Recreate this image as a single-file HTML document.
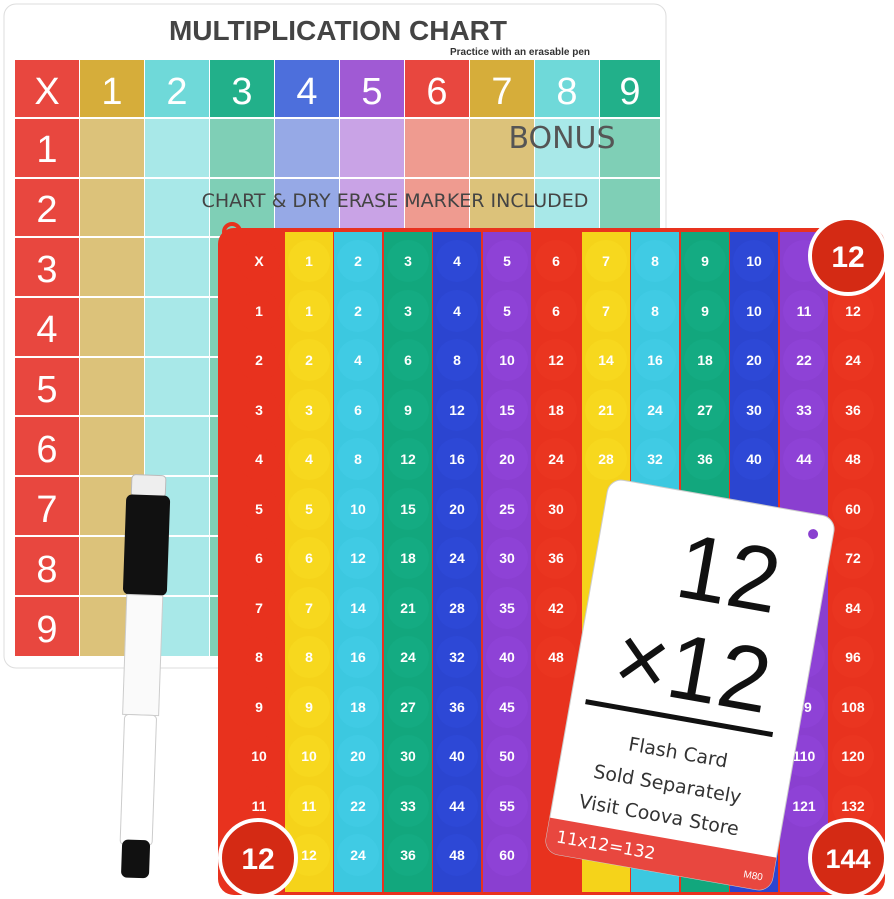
<!DOCTYPE html>
<html><head><meta charset="utf-8"><style>
body{margin:0;background:#fff;width:894px;height:899px;overflow:hidden}
svg{display:block}
.b text{font-family:"Liberation Sans",sans-serif;font-weight:bold;font-size:14px;fill:#fff;text-anchor:middle}
</style></head><body>
<svg width="894" height="899" viewBox="0 0 894 899" xmlns="http://www.w3.org/2000/svg">
<!-- whiteboard -->
<rect x="4" y="4" width="662" height="664" rx="12" fill="#fff" stroke="#ddd"/>
<text x="338" y="40" font-family="Liberation Sans" font-weight="bold" font-size="28" fill="#444" text-anchor="middle">MULTIPLICATION CHART</text>
<text x="520" y="55" font-family="Liberation Sans" font-weight="bold" font-size="10" fill="#333" text-anchor="middle">Practice with an erasable pen</text>
<g>
<rect x="15" y="60" width="64" height="596" fill="#e8473f"/>
<rect x="80" y="60" width="64" height="596" fill="#dcc27a"/><rect x="80" y="60" width="64" height="58" fill="#d6ad3a"/>
<rect x="145" y="60" width="64" height="596" fill="#a8e8e8"/><rect x="145" y="60" width="64" height="58" fill="#6fd9d9"/>
<rect x="210" y="60" width="64" height="596" fill="#7fcfb6"/><rect x="210" y="60" width="64" height="58" fill="#22b08a"/>
<rect x="275" y="60" width="64" height="596" fill="#96a9e6"/><rect x="275" y="60" width="64" height="58" fill="#4d6fdc"/>
<rect x="340" y="60" width="64" height="596" fill="#c9a3e6"/><rect x="340" y="60" width="64" height="58" fill="#a05ad4"/>
<rect x="405" y="60" width="64" height="596" fill="#ef9b90"/><rect x="405" y="60" width="64" height="58" fill="#e8473f"/>
<rect x="470" y="60" width="64" height="596" fill="#dcc27a"/><rect x="470" y="60" width="64" height="58" fill="#d6ad3a"/>
<rect x="535" y="60" width="64" height="596" fill="#a8e8e8"/><rect x="535" y="60" width="64" height="58" fill="#6fd9d9"/>
<rect x="600" y="60" width="60" height="596" fill="#7fcfb6"/><rect x="600" y="60" width="60" height="58" fill="#22b08a"/>
</g>
<g stroke="#fff" stroke-width="2">
<line x1="15" y1="118" x2="660" y2="118"/><line x1="15" y1="178" x2="660" y2="178"/><line x1="15" y1="237" x2="660" y2="237"/><line x1="15" y1="297" x2="660" y2="297"/><line x1="15" y1="357" x2="660" y2="357"/><line x1="15" y1="416" x2="660" y2="416"/><line x1="15" y1="476" x2="660" y2="476"/><line x1="15" y1="536" x2="660" y2="536"/><line x1="15" y1="596" x2="660" y2="596"/>
</g>
<g font-family="Liberation Sans" font-size="38" fill="#fff" text-anchor="middle">
<text x="47" y="104">X</text><text x="112" y="104">1</text><text x="177" y="104">2</text><text x="242" y="104">3</text><text x="307" y="104">4</text><text x="372" y="104">5</text><text x="437" y="104">6</text><text x="502" y="104">7</text><text x="567" y="104">8</text><text x="630" y="104">9</text>
<text x="47" y="162">1</text><text x="47" y="222">2</text><text x="47" y="282">3</text><text x="47" y="342">4</text><text x="47" y="402">5</text><text x="47" y="462">6</text><text x="47" y="522">7</text><text x="47" y="582">8</text><text x="47" y="642">9</text>
</g>
<text x="562" y="148" font-family="DejaVu Sans" font-size="30" fill="#555" text-anchor="middle">BONUS</text>
<text x="395" y="207" font-family="DejaVu Sans" font-size="19" fill="#444" text-anchor="middle">CHART &amp; DRY ERASE MARKER INCLUDED</text>

<!-- pop it board -->
<circle cx="232" cy="232" r="8" fill="none" stroke="#e8321e" stroke-width="4"/>
<rect x="218" y="228" width="667" height="667" rx="16" fill="#e8321e"/>
<g>
<rect x="285" y="232" width="48" height="660" fill="#f5d31a"/>
<rect x="334" y="232" width="48" height="660" fill="#3cc8e0"/>
<rect x="384" y="232" width="48" height="660" fill="#12a77d"/>
<rect x="433" y="232" width="48" height="660" fill="#2b45d0"/>
<rect x="483" y="232" width="48" height="660" fill="#8a3fd0"/>
<rect x="582" y="232" width="48" height="660" fill="#f5d31a"/>
<rect x="631" y="232" width="48" height="660" fill="#3cc8e0"/>
<rect x="681" y="232" width="48" height="660" fill="#12a77d"/>
<rect x="730" y="232" width="48" height="660" fill="#2b45d0"/>
<rect x="780" y="232" width="48" height="660" fill="#8a3fd0"/>
</g>
<defs>
<radialGradient id="sh" cx="0.4" cy="0.35" r="0.7"><stop offset="0" stop-color="#fff" stop-opacity="0.35"/><stop offset="1" stop-color="#000" stop-opacity="0.15"/></radialGradient>
</defs>
<g class="b">
<!-- col 0 red -->
<g fill="#e8321e"><circle cx="259" cy="261" r="21"/><circle cx="259" cy="311" r="21"/><circle cx="259" cy="360" r="21"/><circle cx="259" cy="410" r="21"/><circle cx="259" cy="459" r="21"/><circle cx="259" cy="509" r="21"/><circle cx="259" cy="558" r="21"/><circle cx="259" cy="608" r="21"/><circle cx="259" cy="657" r="21"/><circle cx="259" cy="707" r="21"/><circle cx="259" cy="756" r="21"/><circle cx="259" cy="806" r="21"/></g>
<text x="259" y="266">X</text><text x="259" y="316">1</text><text x="259" y="365">2</text><text x="259" y="415">3</text><text x="259" y="464">4</text><text x="259" y="514">5</text><text x="259" y="563">6</text><text x="259" y="613">7</text><text x="259" y="662">8</text><text x="259" y="712">9</text><text x="259" y="761">10</text><text x="259" y="811">11</text>
<!-- col1 yellow -->
<g fill="#f7d81e"><circle cx="309" cy="261" r="21"/><circle cx="309" cy="311" r="21"/><circle cx="309" cy="360" r="21"/><circle cx="309" cy="410" r="21"/><circle cx="309" cy="459" r="21"/><circle cx="309" cy="509" r="21"/><circle cx="309" cy="558" r="21"/><circle cx="309" cy="608" r="21"/><circle cx="309" cy="657" r="21"/><circle cx="309" cy="707" r="21"/><circle cx="309" cy="756" r="21"/><circle cx="309" cy="806" r="21"/><circle cx="309" cy="855" r="21"/></g>
<text x="309" y="266">1</text><text x="309" y="316">1</text><text x="309" y="365">2</text><text x="309" y="415">3</text><text x="309" y="464">4</text><text x="309" y="514">5</text><text x="309" y="563">6</text><text x="309" y="613">7</text><text x="309" y="662">8</text><text x="309" y="712">9</text><text x="309" y="761">10</text><text x="309" y="811">11</text><text x="309" y="860">12</text>
<!-- col2 cyan -->
<g fill="#40cbe4"><circle cx="358" cy="261" r="21"/><circle cx="358" cy="311" r="21"/><circle cx="358" cy="360" r="21"/><circle cx="358" cy="410" r="21"/><circle cx="358" cy="459" r="21"/><circle cx="358" cy="509" r="21"/><circle cx="358" cy="558" r="21"/><circle cx="358" cy="608" r="21"/><circle cx="358" cy="657" r="21"/><circle cx="358" cy="707" r="21"/><circle cx="358" cy="756" r="21"/><circle cx="358" cy="806" r="21"/><circle cx="358" cy="855" r="21"/></g>
<text x="358" y="266">2</text><text x="358" y="316">2</text><text x="358" y="365">4</text><text x="358" y="415">6</text><text x="358" y="464">8</text><text x="358" y="514">10</text><text x="358" y="563">12</text><text x="358" y="613">14</text><text x="358" y="662">16</text><text x="358" y="712">18</text><text x="358" y="761">20</text><text x="358" y="811">22</text><text x="358" y="860">24</text>
<!-- col3 green -->
<g fill="#14ab82"><circle cx="408" cy="261" r="21"/><circle cx="408" cy="311" r="21"/><circle cx="408" cy="360" r="21"/><circle cx="408" cy="410" r="21"/><circle cx="408" cy="459" r="21"/><circle cx="408" cy="509" r="21"/><circle cx="408" cy="558" r="21"/><circle cx="408" cy="608" r="21"/><circle cx="408" cy="657" r="21"/><circle cx="408" cy="707" r="21"/><circle cx="408" cy="756" r="21"/><circle cx="408" cy="806" r="21"/><circle cx="408" cy="855" r="21"/></g>
<text x="408" y="266">3</text><text x="408" y="316">3</text><text x="408" y="365">6</text><text x="408" y="415">9</text><text x="408" y="464">12</text><text x="408" y="514">15</text><text x="408" y="563">18</text><text x="408" y="613">21</text><text x="408" y="662">24</text><text x="408" y="712">27</text><text x="408" y="761">30</text><text x="408" y="811">33</text><text x="408" y="860">36</text>
<!-- col4 blue -->
<g fill="#2d48d6"><circle cx="457" cy="261" r="21"/><circle cx="457" cy="311" r="21"/><circle cx="457" cy="360" r="21"/><circle cx="457" cy="410" r="21"/><circle cx="457" cy="459" r="21"/><circle cx="457" cy="509" r="21"/><circle cx="457" cy="558" r="21"/><circle cx="457" cy="608" r="21"/><circle cx="457" cy="657" r="21"/><circle cx="457" cy="707" r="21"/><circle cx="457" cy="756" r="21"/><circle cx="457" cy="806" r="21"/><circle cx="457" cy="855" r="21"/></g>
<text x="457" y="266">4</text><text x="457" y="316">4</text><text x="457" y="365">8</text><text x="457" y="415">12</text><text x="457" y="464">16</text><text x="457" y="514">20</text><text x="457" y="563">24</text><text x="457" y="613">28</text><text x="457" y="662">32</text><text x="457" y="712">36</text><text x="457" y="761">40</text><text x="457" y="811">44</text><text x="457" y="860">48</text>
<!-- col5 purple -->
<g fill="#8e42d6"><circle cx="507" cy="261" r="21"/><circle cx="507" cy="311" r="21"/><circle cx="507" cy="360" r="21"/><circle cx="507" cy="410" r="21"/><circle cx="507" cy="459" r="21"/><circle cx="507" cy="509" r="21"/><circle cx="507" cy="558" r="21"/><circle cx="507" cy="608" r="21"/><circle cx="507" cy="657" r="21"/><circle cx="507" cy="707" r="21"/><circle cx="507" cy="756" r="21"/><circle cx="507" cy="806" r="21"/><circle cx="507" cy="855" r="21"/></g>
<text x="507" y="266">5</text><text x="507" y="316">5</text><text x="507" y="365">10</text><text x="507" y="415">15</text><text x="507" y="464">20</text><text x="507" y="514">25</text><text x="507" y="563">30</text><text x="507" y="613">35</text><text x="507" y="662">40</text><text x="507" y="712">45</text><text x="507" y="761">50</text><text x="507" y="811">55</text><text x="507" y="860">60</text>
<!-- col6 red -->
<g fill="#ea3520"><circle cx="556" cy="261" r="21"/><circle cx="556" cy="311" r="21"/><circle cx="556" cy="360" r="21"/><circle cx="556" cy="410" r="21"/><circle cx="556" cy="459" r="21"/><circle cx="556" cy="509" r="21"/><circle cx="556" cy="558" r="21"/><circle cx="556" cy="608" r="21"/><circle cx="556" cy="657" r="21"/></g>
<text x="556" y="266">6</text><text x="556" y="316">6</text><text x="556" y="365">12</text><text x="556" y="415">18</text><text x="556" y="464">24</text><text x="556" y="514">30</text><text x="556" y="563">36</text><text x="556" y="613">42</text><text x="556" y="662">48</text>
<!-- col7 yellow -->
<g fill="#f7d81e"><circle cx="606" cy="261" r="21"/><circle cx="606" cy="311" r="21"/><circle cx="606" cy="360" r="21"/><circle cx="606" cy="410" r="21"/><circle cx="606" cy="459" r="21"/></g>
<text x="606" y="266">7</text><text x="606" y="316">7</text><text x="606" y="365">14</text><text x="606" y="415">21</text><text x="606" y="464">28</text>
<!-- col8 cyan -->
<g fill="#40cbe4"><circle cx="655" cy="261" r="21"/><circle cx="655" cy="311" r="21"/><circle cx="655" cy="360" r="21"/><circle cx="655" cy="410" r="21"/><circle cx="655" cy="459" r="21"/></g>
<text x="655" y="266">8</text><text x="655" y="316">8</text><text x="655" y="365">16</text><text x="655" y="415">24</text><text x="655" y="464">32</text>
<!-- col9 green -->
<g fill="#14ab82"><circle cx="705" cy="261" r="21"/><circle cx="705" cy="311" r="21"/><circle cx="705" cy="360" r="21"/><circle cx="705" cy="410" r="21"/><circle cx="705" cy="459" r="21"/></g>
<text x="705" y="266">9</text><text x="705" y="316">9</text><text x="705" y="365">18</text><text x="705" y="415">27</text><text x="705" y="464">36</text>
<!-- col10 blue -->
<g fill="#2d48d6"><circle cx="754" cy="261" r="21"/><circle cx="754" cy="311" r="21"/><circle cx="754" cy="360" r="21"/><circle cx="754" cy="410" r="21"/><circle cx="754" cy="459" r="21"/></g>
<text x="754" y="266">10</text><text x="754" y="316">10</text><text x="754" y="365">20</text><text x="754" y="415">30</text><text x="754" y="464">40</text>
<!-- col11 purple -->
<g fill="#8e42d6"><circle cx="804" cy="261" r="21"/><circle cx="804" cy="311" r="21"/><circle cx="804" cy="360" r="21"/><circle cx="804" cy="410" r="21"/><circle cx="804" cy="459" r="21"/><circle cx="804" cy="657" r="21"/><circle cx="804" cy="707" r="21"/><circle cx="804" cy="756" r="21"/><circle cx="804" cy="806" r="21"/></g>
<text x="804" y="316">11</text><text x="804" y="365">22</text><text x="804" y="415">33</text><text x="804" y="464">44</text><text x="804" y="712">99</text><text x="804" y="761">110</text><text x="804" y="811">121</text>
<!-- col12 red -->
<g fill="#ea3520"><circle cx="853" cy="311" r="21"/><circle cx="853" cy="360" r="21"/><circle cx="853" cy="410" r="21"/><circle cx="853" cy="459" r="21"/><circle cx="853" cy="509" r="21"/><circle cx="853" cy="558" r="21"/><circle cx="853" cy="608" r="21"/><circle cx="853" cy="657" r="21"/><circle cx="853" cy="707" r="21"/><circle cx="853" cy="756" r="21"/><circle cx="853" cy="806" r="21"/></g>
<text x="853" y="316">12</text><text x="853" y="365">24</text><text x="853" y="415">36</text><text x="853" y="464">48</text><text x="853" y="514">60</text><text x="853" y="563">72</text><text x="853" y="613">84</text><text x="853" y="662">96</text><text x="853" y="712">108</text><text x="853" y="761">120</text><text x="853" y="811">132</text>
</g>

<!-- flash card -->
<g transform="translate(690,685) rotate(10)">
<rect x="-115" y="-190" width="230" height="380" rx="14" fill="#fff" stroke="#ccc"/>
<circle cx="95" cy="-170" r="5" fill="#8a3fd0"/>
<text x="70" y="-85" font-family="Liberation Sans" font-size="92" fill="#111" text-anchor="end">12</text>
<text x="78" y="15" font-family="Liberation Sans" font-size="92" fill="#111" text-anchor="end">×12</text>
<rect x="-100" y="32" width="190" height="5" fill="#111"/>
<g font-family="DejaVu Sans" font-size="19" fill="#333" text-anchor="middle">
<text x="0" y="75">Flash Card</text>
<text x="-5" y="108">Sold Separately</text>
<text x="-8" y="140">Visit Coova Store</text>
</g>
<path d="M-115 155 H115 V176 a14 14 0 0 1 -14 14 H-101 a14 14 0 0 1 -14 -14 Z" fill="#e8473f"/>
<text x="-105" y="178" font-family="DejaVu Sans" font-size="17" fill="#fff">11x12=132</text>
<text x="105" y="180" font-family="Liberation Sans" font-size="10" fill="#fff" text-anchor="end">M80</text>
</g>

<!-- marker -->
<g transform="translate(142,675) rotate(2)">
<rect x="-17" y="-200" width="34" height="22" rx="4" fill="#eee" stroke="#bbb"/>
<rect x="-22" y="-180" width="44" height="100" rx="6" fill="#111"/>
<rect x="-18" y="-80" width="36" height="120" fill="#fafafa" stroke="#ccc"/>
<rect x="-16" y="40" width="32" height="130" rx="4" fill="#fff" stroke="#ccc"/>
<rect x="-14" y="165" width="28" height="38" rx="6" fill="#111"/>
</g>

<!-- red circle badges -->
<g font-family="Liberation Sans" font-weight="bold" fill="#fff" text-anchor="middle">
<circle cx="848" cy="256" r="38" fill="#d42a14" stroke="#fff" stroke-width="4"/>
<text x="848" y="267" font-size="30">12</text>
<circle cx="258" cy="858" r="38" fill="#d42a14" stroke="#fff" stroke-width="4"/>
<text x="258" y="869" font-size="30">12</text>
<circle cx="848" cy="858" r="38" fill="#d42a14" stroke="#fff" stroke-width="4"/>
<text x="848" y="868" font-size="27">144</text>
</g>
</svg>
</body></html>
